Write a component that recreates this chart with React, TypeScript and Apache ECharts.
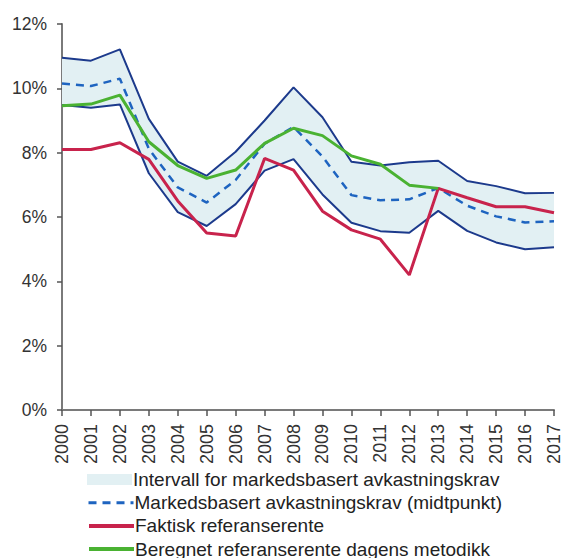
import React, { useEffect, useRef } from "react";
import * as echarts from "echarts";

const years = ["2000","2001","2002","2003","2004","2005","2006","2007","2008","2009","2010","2011","2012","2013","2014","2015","2016","2017"];
const upperBand = [10.95, 10.86, 11.21, 9.05, 7.72, 7.28, 8.03, 9.0, 10.03, 9.1, 7.72, 7.6, 7.7, 7.75, 7.12, 6.96, 6.74, 6.75];
const lowerBand = [9.48, 9.4, 9.5, 7.36, 6.15, 5.72, 6.4, 7.44, 7.8, 6.7, 5.82, 5.56, 5.51, 6.19, 5.57, 5.21, 5.0, 5.06];
const midpoint = [10.15, 10.07, 10.3, 8.12, 6.92, 6.45, 7.15, 8.28, 8.8, 7.88, 6.68, 6.52, 6.55, 6.9, 6.35, 6.02, 5.83, 5.87];
const faktisk = [8.1, 8.1, 8.31, 7.79, 6.5, 5.5, 5.41, 7.82, 7.46, 6.18, 5.6, 5.31, 4.2, 6.89, 6.6, 6.32, 6.32, 6.13];
const beregnet = [9.46, 9.51, 9.79, 8.34, 7.6, 7.2, 7.46, 8.29, 8.76, 8.53, 7.9, 7.64, 6.99, 6.89, null, null, null, null];
const yTicks = [0, 2, 4, 6, 8, 10, 12];

const NAME_BAND = "Intervall for markedsbasert avkastningskrav";
const NAME_MID = "Markedsbasert avkastningskrav (midtpunkt)";
const NAME_RED = "Faktisk referanserente";
const NAME_GREEN = "Beregnet referanserente dagens metodikk";
const legendNames = [NAME_BAND, NAME_MID, NAME_RED, NAME_GREEN];

export default function App() {
  const ref = useRef<HTMLDivElement>(null);
  useEffect(() => {
    if (!ref.current) return;
    const chart = echarts.init(ref.current, null, { renderer: "svg" });
    const bandDiff = upperBand.map((u, i) => +(u - lowerBand[i]).toFixed(3));
    const navy = "#1c3a8c";
    const bandColor = "#e2f0f3";
    const legends = legendNames.map((name, i) => ({
      orient: "vertical",
      left: 82,
      top: 470 + i * 23.2,
      padding: [0, 5, 0, 5],
      itemWidth: 45,
      itemHeight: 11,
      selectedMode: false,
      textStyle: { fontSize: 19, color: "#222", lineHeight: 19, padding: [0, 0, 0, -4] },
      data: [
        i === 0
          ? { name, icon: "rect", itemStyle: { color: bandColor } }
          : { name, itemStyle: { opacity: 0 }, lineStyle: { width: i === 1 ? 3 : 4 } },
      ],
    }));
    chart.setOption({
      animation: false,
      textStyle: { fontFamily: "Liberation Sans, Arial, sans-serif" },
      grid: { left: 62, right: 5, top: 24, bottom: 148, containLabel: false },
      xAxis: {
        type: "category",
        data: years,
        boundaryGap: false,
        axisLine: { show: true, lineStyle: { color: "#7a7a7a", width: 2 } },
        axisTick: { show: true, length: 6, alignWithLabel: true, interval: 0, lineStyle: { color: "#555", width: 1.5 } },
        axisLabel: { rotate: 90, interval: 0, margin: 14, fontSize: 18, color: "#333" },
        splitLine: { show: false },
      },
      yAxis: {
        type: "value",
        min: yTicks[0],
        max: yTicks[yTicks.length - 1],
        interval: 2,
        axisLine: { show: true, lineStyle: { color: "#7a7a7a", width: 2 } },
        axisTick: { show: true, length: 5, lineStyle: { color: "#555", width: 1.5 } },
        axisLabel: { formatter: "{value}%", fontSize: 17.5, color: "#333", margin: 15 },
        splitLine: { show: false },
      },
      legend: legends,
      series: [
        {
          name: "lowerBase",
          type: "line",
          stack: "band",
          data: lowerBand,
          symbol: "none",
          lineStyle: { opacity: 0 },
          silent: true,
        },
        {
          name: NAME_BAND,
          type: "line",
          stack: "band",
          data: bandDiff,
          symbol: "none",
          lineStyle: { opacity: 0 },
          itemStyle: { color: bandColor },
          areaStyle: { color: bandColor, opacity: 1 },
          silent: true,
        },
        {
          name: "upperLine",
          type: "line",
          data: upperBand,
          symbol: "none",
          lineStyle: { color: navy, width: 2 },
          itemStyle: { color: navy },
        },
        {
          name: "lowerLine",
          type: "line",
          data: lowerBand,
          symbol: "none",
          lineStyle: { color: navy, width: 2 },
          itemStyle: { color: navy },
        },
        {
          name: NAME_MID,
          type: "line",
          data: midpoint,
          symbol: "none",
          lineStyle: { color: "#1e64c0", width: 2.5, type: [8, 6] },
          itemStyle: { color: "#1e64c0" },
        },
        {
          name: NAME_RED,
          type: "line",
          data: faktisk,
          symbol: "none",
          lineStyle: { color: "#c8234c", width: 3 },
          itemStyle: { color: "#c8234c" },
        },
        {
          name: NAME_GREEN,
          type: "line",
          data: beregnet,
          symbol: "none",
          lineStyle: { color: "#4ab232", width: 3 },
          itemStyle: { color: "#4ab232" },
        },
      ],
    });
    return () => chart.dispose();
  }, []);
  return (
    <div
      ref={ref}
      style={{ position: "absolute", left: 0, top: 0, width: 563, height: 558, background: "#fff" }}
    />
  );
}
